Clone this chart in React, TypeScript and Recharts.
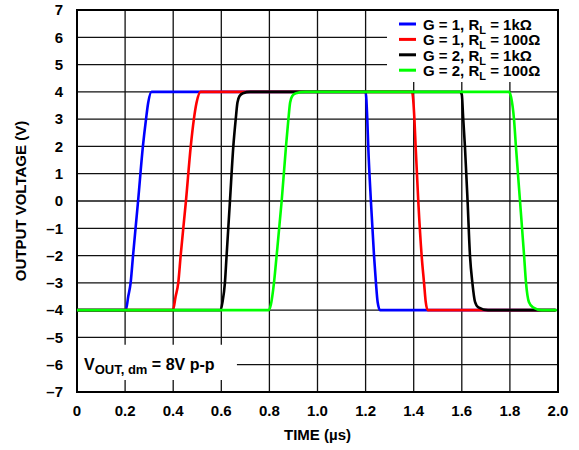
import * as React from 'react';
import { LineChart, Line, XAxis, YAxis, CartesianGrid, ReferenceArea } from 'recharts';

// time axis (µs) and voltage axis (V) ticks
const timeTicks = [0, 0.2, 0.4, 0.6, 0.8, 1.0, 1.2, 1.4, 1.6, 1.8, 2.0];
const voltTicks = [7, 6, 5, 4, 3, 2, 1, 0, -1, -2, -3, -4, -5, -6, -7];

// G = 1, RL = 1kΩ
const tBlue = [0, 0.203, 0.213, 0.223, 0.233, 0.254, 0.274, 0.287, 0.296, 0.31, 1.2, 1.207, 1.211, 1.222, 1.235, 1.243, 1.25, 1.26, 1.99];
const vBlue = [-4, -4, -3.5, -3, -2, 0, 2, 3, 3.6, 4, 4, 3, 2, 0, -2, -3, -3.7, -4, -4];
// G = 1, RL = 100Ω
const tRed = [0, 0.399, 0.41, 0.421, 0.431, 0.453, 0.473, 0.486, 0.497, 0.514, 1.393, 1.403, 1.408, 1.419, 1.433, 1.443, 1.45, 1.458, 1.99];
const vRed = [-4, -4, -3.5, -3, -2, 0, 2, 3, 3.6, 4, 4, 3, 2, 0, -2, -3, -3.7, -4, -4];
// G = 2, RL = 1kΩ
const tBlack = [0, 0.597, 0.605, 0.615, 0.622, 0.636, 0.65, 0.66, 0.667, 0.676, 0.69, 0.72, 1.592, 1.6, 1.606, 1.613, 1.624, 1.634, 1.644, 1.655, 1.669, 1.709, 1.99];
const vBlack = [-4, -4, -3.7, -3, -2, 0, 2, 3, 3.6, 3.85, 3.95, 4, 4, 3.9, 3, 2, 0, -2, -3, -3.7, -3.9, -4, -4];
// G = 2, RL = 100Ω
const tGreen = [0, 0.797, 0.806, 0.819, 0.83, 0.851, 0.869, 0.879, 0.886, 0.895, 0.91, 0.95, 1.796, 1.805, 1.817, 1.825, 1.842, 1.859, 1.867, 1.879, 1.896, 1.932, 1.995];
const vGreen = [-4, -4, -3.8, -3, -2, 0, 2, 3, 3.6, 3.85, 3.95, 4, 4, 3.8, 3, 2, 0, -2, -3, -3.7, -3.9, -4, -4];

const gains = ['1', '1', '2', '2'];
const loads = ['1kΩ', '100Ω', '1kΩ', '100Ω'];
const colors = ['#0000ff', '#ff0000', '#000000', '#00ff00'];

const FONT = '"Liberation Sans", Arial, sans-serif';

const zip = (t: number[], v: number[]) => t.map((x, i) => ({ t: x, v: v[i] }));

const series = [
  zip(tBlue, vBlue),
  zip(tRed, vRed),
  zip(tBlack, vBlack),
  zip(tGreen, vGreen),
].map((data, i) => ({ data, g: gains[i], r: loads[i], color: colors[i] }));

const fmtVolt = (v: number) => (v < 0 ? `\u2013${-v}` : `${v}`);
const fmtTime = (t: number) => (t === 0 ? '0' : t.toFixed(1));

const tickStyle = { fontSize: 15, fontWeight: 700, fill: '#000', fontFamily: FONT };

function LegendBox({ viewBox }: any) {
  const { x, y } = viewBox;
  return (
    <g fontFamily={FONT} fontWeight={700} fill="#000">
      {series.map((s, i) => {
        const by = y + 20 + i * 15.4;
        return (
          <g key={i}>
            <line x1={x + 12} x2={x + 29} y1={by - 6} y2={by - 6} stroke={s.color} strokeWidth={3} />
            <text x={x + 36} y={by} fontSize={15}>
              {`G = ${s.g}, R`}
              <tspan dy={4} fontSize={11}>L</tspan>
              <tspan dy={-4}>{` = ${s.r}`}</tspan>
            </text>
          </g>
        );
      })}
    </g>
  );
}

function Note({ viewBox }: any) {
  const { x, y } = viewBox;
  return (
    <text x={x + 7} y={y + 25} fontFamily={FONT} fontWeight={700} fontSize={16} fill="#000">
      V
      <tspan dy={4} fontSize={13}>OUT, dm</tspan>
      <tspan dy={-4}>{' = 8V p-p'}</tspan>
    </text>
  );
}

export default function App() {
  return (
    <div style={{ position: 'absolute', left: 0, top: 0, background: '#fff' }}>
      <LineChart width={579} height={450} margin={{ top: 10, right: 21, bottom: 0, left: 0 }}>
        <CartesianGrid stroke="#111" strokeWidth={1.3} strokeOpacity={1} />
        <XAxis
          dataKey="t"
          type="number"
          domain={[0, 2]}
          ticks={timeTicks}
          tickFormatter={fmtTime}
          axisLine={false}
          tickLine={false}
          tickSize={0}
          tickMargin={13}
          height={58}
          tick={tickStyle}
          allowDuplicatedCategory={false}
          label={({ viewBox }: any) => (
            <text
              x={viewBox.x + viewBox.width / 2}
              y={viewBox.y + 48}
              textAnchor="middle"
              fontFamily={FONT}
              fontWeight={700}
              fontSize={15}
              fill="#000"
            >
              TIME (µs)
            </text>
          )}
        />
        <YAxis
          type="number"
          domain={[-7, 7]}
          ticks={voltTicks}
          tickFormatter={fmtVolt}
          axisLine={false}
          tickLine={false}
          tickSize={0}
          tickMargin={14}
          width={77}
          tick={tickStyle}
          label={({ viewBox }: any) => {
            const cx = 20;
            const cy = viewBox.y + viewBox.height / 2;
            return (
              <text
                x={cx}
                y={cy}
                transform={`rotate(-90, ${cx}, ${cy})`}
                textAnchor="middle"
                dominantBaseline="central"
                fontFamily={FONT}
                fontWeight={700}
                fontSize={15}
                fill="#000"
              >
                OUTPUT VOLTAGE (V)
              </text>
            );
          }}
        />
        <ReferenceArea
          x1={1.289}
          x2={2}
          y1={4.36}
          y2={7}
          fill="#fff"
          fillOpacity={1}
          stroke="none"
          label={(p: any) => <LegendBox {...p} />}
        />
        <ReferenceArea
          x1={0}
          x2={0.665}
          y1={-6.56}
          y2={-5.27}
          fill="#fff"
          fillOpacity={1}
          stroke="none"
          label={(p: any) => <Note {...p} />}
        />
        {series.map((s, i) => (
          <Line
            key={i}
            data={s.data}
            dataKey="v"
            type="monotone"
            stroke={s.color}
            strokeWidth={2.6}
            dot={false}
            activeDot={false}
            isAnimationActive={false}
          />
        ))}
        <ReferenceArea x1={0} x2={2} y1={-7} y2={7} fill="none" stroke="#000" strokeWidth={2} />
      </LineChart>
    </div>
  );
}
